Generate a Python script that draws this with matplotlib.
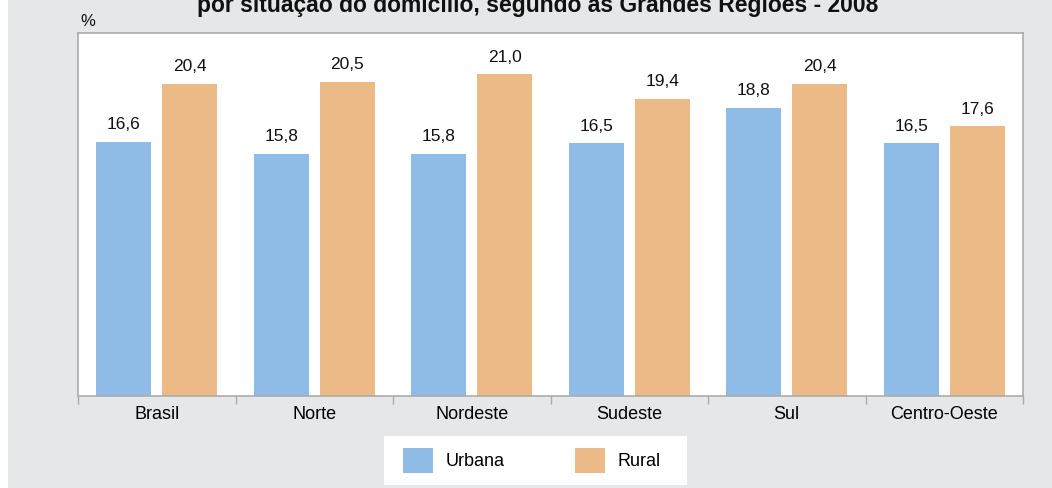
import numpy as np
import matplotlib
matplotlib.use("Agg")
import matplotlib.pyplot as plt
from matplotlib.patches import Patch, Rectangle

# data
regioes = ["Brasil", "Norte", "Nordeste", "Sudeste", "Sul", "Centro-Oeste"]
urbana = [16.6, 15.8, 15.8, 16.5, 18.8, 16.5]
rural = [20.4, 20.5, 21.0, 19.4, 20.4, 17.6]

cor_urbana = "#8EBCE6"
cor_rural = "#EBBA86"
cor_fundo = "#E6E7E9"
cor_borda = "#ABABAB"

plt.rcParams["font.family"] = ["Liberation Sans", "DejaVu Sans"]

W, H = 1052, 488
fig = plt.figure(figsize=(W / 100, H / 100), dpi=100, facecolor=cor_fundo)
# white strip at the left edge
fig.patches.append(Rectangle((0, 0), 8 / W, 1, transform=fig.transFigure,
                             facecolor="white", edgecolor="none", zorder=0))

ax = fig.add_axes([78 / W, (H - 396) / H, 945 / W, 363 / H])
ax.set_facecolor("white")

x = np.arange(len(regioes))
larg = 0.349
desl = 0.2095
b1 = ax.bar(x - desl, urbana, larg, color=cor_urbana, zorder=2)
b2 = ax.bar(x + desl, rural, larg, color=cor_rural, zorder=2)

for barras in (b1, b2):
    for b in barras:
        v = b.get_height()
        ax.annotate(f"{v:.1f}".replace(".", ","),
                    (b.get_x() + b.get_width() / 2, v),
                    xytext=(0, 7), textcoords="offset points",
                    ha="center", va="bottom", fontsize=12.5, color="#111111")

ax.set_xlim(-0.5, len(regioes) - 0.5)
ax.set_ylim(0, 23.7)
ax.set_yticks([])

# group boundary ticks, labels at the centres
ax.set_xticks(np.arange(-0.5, len(regioes)), labels=[])
ax.set_xticks(x, labels=regioes, minor=True)
ax.tick_params(axis="x", which="major", length=6, width=1, color=cor_borda)
ax.tick_params(axis="x", which="minor", length=0, pad=7, labelsize=13)

for s in ax.spines.values():
    s.set_color(cor_borda)
    s.set_linewidth(1.2)

fig.text(538 / W, 1 - 12 / H, "por situação do domicílio, segundo as Grandes Regiões - 2008",
         ha="center", va="baseline", fontsize=16.5, fontweight="bold", color="#111111")
fig.text(80 / W, 1 - 26 / H, "%", ha="left", va="baseline", fontsize=12, color="#111111")

# legend on its own white box
fig.patches.append(Rectangle((384 / W, (H - 485) / H), 303 / W, 49 / H,
                             transform=fig.transFigure, facecolor="white",
                             edgecolor="none", zorder=1))
alças = [Patch(facecolor=cor_urbana, label="Urbana"),
         Patch(facecolor=cor_rural, label="Rural")]
leg = fig.legend(handles=alças, loc="center", bbox_to_anchor=(532 / W, 1 - 460.5 / H),
                 ncol=2, frameon=False, fontsize=13,
                 handlelength=1.65, handleheight=1.7, handletextpad=0.7,
                 columnspacing=3.9, borderpad=0.3)
leg.set_zorder(3)

fig.savefig("out.png", dpi=100, facecolor=cor_fundo)
